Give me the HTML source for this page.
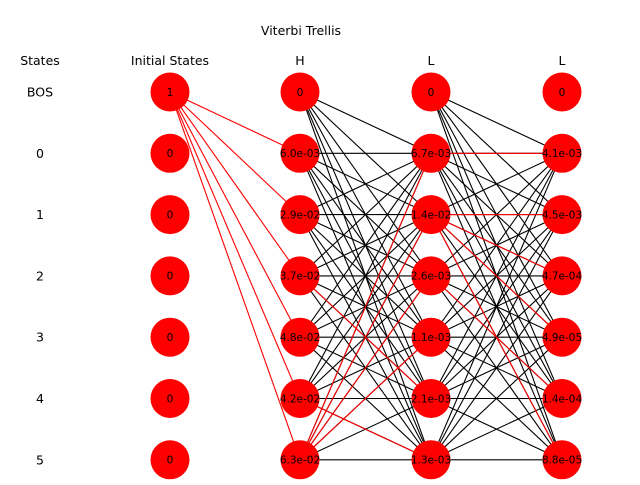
<!DOCTYPE html>
<html><head><meta charset="utf-8"><style>
body{margin:0;background:#fff}
svg{font-family:"DejaVu Sans","Liberation Sans",sans-serif}
</style></head><body>
<svg id="chart" width="640" height="480">
<text x="301" y="35" font-size="12.5" text-anchor="middle">Viterbi Trellis</text>
<g id="edges"></g><g id="nodes"></g><g id="labels"></g>
</svg>
<script>
const rowLabels=["BOS","0","1","2","3","4","5"];
const colHeaders=["Initial States","H","L","L"];
const values=[
 ["1","0","0","0","0","0","0"],
 ["0","6.0e-03","2.9e-02","3.7e-02","4.8e-02","4.2e-02","6.3e-02"],
 ["0","6.7e-03","1.4e-02","2.6e-03","1.1e-03","2.1e-03","1.3e-03"],
 ["0","4.1e-03","4.5e-03","4.7e-04","4.9e-05","1.4e-04","8.8e-05"]
];
const backptr=[
 null,
 [null,0,0,0,0,0,0],
 [null,6,6,6,6,3,5],
 [null,1,2,2,2,3,2]
];
const ns="http://www.w3.org/2000/svg";
const colX=c=>[170,300,431,562][c];
const rowY=r=>92+r*61.3;
const E=document.getElementById('edges'),N=document.getElementById('nodes'),L=document.getElementById('labels');
function mk(t,a,p){const e=document.createElementNS(ns,t);for(const k in a)e.setAttribute(k,a[k]);p.appendChild(e);return e;}
for(let c=1;c<values.length-1;c++){
 for(let a=0;a<7;a++)for(let b=1;b<7;b++){
  const l=mk('line',{x1:colX(c),y1:rowY(a),x2:colX(c+1),y2:rowY(b),stroke:'#000','stroke-width':1.1},E);
  
  
 }
}
for(let c=1;c<values.length;c++){
 for(let r=1;r<7;r++){
  const p=backptr[c][r];
  const l=mk('line',{x1:colX(c-1),y1:rowY(p),x2:colX(c),y2:rowY(r),stroke:'#ff0000','stroke-width':1.1},E);
  
  
 }
}
for(let c=0;c<values.length;c++){
 for(let r=0;r<7;r++){
  const g=mk('circle',{cx:colX(c),cy:rowY(r),r:19.5,fill:'#ff0000'},N);
  
  
  const t=mk('text',{x:colX(c),y:rowY(r)+3.8,'font-size':10.5,'text-anchor':'middle'},N);
  t.textContent=values[c][r];
  
  
 }
 const h=mk('text',{x:colX(c),y:65,'font-size':12.5,'text-anchor':'middle'},L);
 h.textContent=colHeaders[c];
 
 
}
const sh=mk('text',{x:40,y:65,'font-size':12.5,'text-anchor':'middle'},L);
sh.textContent="States";


for(let r=0;r<7;r++){
 const t=mk('text',{x:40,y:rowY(r)+4.5,'font-size':12.5,'text-anchor':'middle'},L);
 t.textContent=rowLabels[r];
 
 
}
</script>
</body></html>
